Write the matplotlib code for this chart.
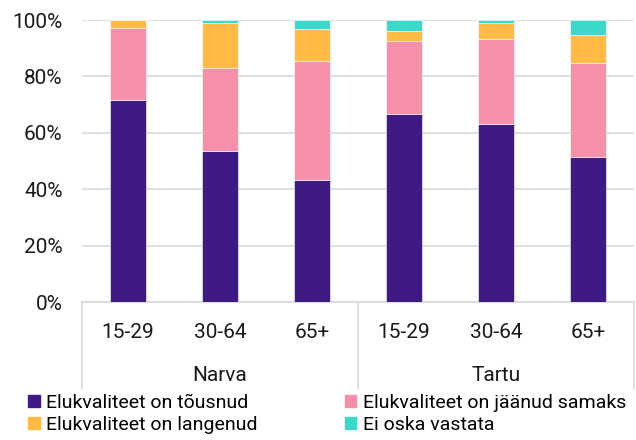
import numpy as np
import matplotlib.pyplot as plt
from matplotlib.patches import Patch
import matplotlib.transforms as mtransforms

plt.rcParams['font.family'] = ['Roboto', 'DejaVu Sans']

# data (percent)
groups = ['Narva', 'Tartu']
ages = ['15-29', '30-64', '65+', '15-29', '30-64', '65+']
tousnud = [71.8, 53.5, 43.2, 66.5, 63.0, 51.5]
samaks = [25.5, 29.5, 42.2, 26.2, 30.4, 33.1]
langenud = [2.7, 15.9, 11.3, 3.5, 5.5, 10.1]
ei_oska = [0.0, 1.1, 3.3, 3.8, 1.1, 5.3]

series = [
    ('Elukvaliteet on tõusnud', tousnud, '#3f1a82'),
    ('Elukvaliteet on jäänud samaks', samaks, '#f58faa'),
    ('Elukvaliteet on langenud', langenud, '#ffbb45'),
    ('Ei oska vastata', ei_oska, '#3cd8cc'),
]

fig = plt.figure(figsize=(6.36, 4.4), dpi=100)
ax = fig.add_axes([82/636, 1-302/440, 552/636, 282/440])

x = np.arange(len(ages))
bottom = np.zeros(len(ages))
for name, vals, col in series:
    vals = np.array(vals)
    ax.bar(x, vals, 0.39, bottom=bottom, color=col, label=name,
           edgecolor='white', linewidth=0.4, zorder=3)
    bottom += vals

ax.set_xlim(-0.5, len(ages) - 0.5)
ax.set_ylim(0, 100)
ax.set_yticks(np.arange(0, 101, 20))
ax.set_yticklabels(['{}%'.format(v) for v in range(0, 101, 20)])
ax.yaxis.grid(True, color='#d9d9d9', linewidth=1.2, zorder=0)
for s in ['left', 'right', 'top']:
    ax.spines[s].set_visible(False)
ax.spines['bottom'].set_color('#d9d9d9')
ax.spines['bottom'].set_linewidth(1.2)
ax.tick_params(axis='y', length=0, labelsize=15, pad=14, labelcolor='#1a1a1a')
ax.set_xticks(x)
ax.set_xticklabels(ages)
ax.tick_params(axis='x', length=0, labelsize=15, pad=15, labelcolor='#1a1a1a')

# group separators and labels
trans = mtransforms.blended_transform_factory(ax.transData, ax.transAxes)
for sep in [-0.5, 2.5, 5.5]:
    ax.plot([sep, sep], [0, -87/282], color='#d9d9d9', linewidth=1.2,
            transform=trans, clip_on=False)
for i, g in enumerate(groups):
    ax.text(3*i + 1, -73/282, g, transform=trans, ha='center', va='center',
            fontsize=15, color='#1a1a1a')

handles = [Patch(color=c, label=n) for n, _, c in series]
order = [0, 2, 1, 3]
fig.legend([handles[i] for i in order], [series[i][0] for i in order],
           ncol=2, loc='upper left', bbox_to_anchor=(28/636, 1-394/440),
           frameon=False, fontsize=14, handlelength=0.6, handleheight=0.6,
           handletextpad=0.35, columnspacing=4.45, labelspacing=0.2,
           borderaxespad=0, borderpad=0)

fig.savefig('out.png', dpi=100)
